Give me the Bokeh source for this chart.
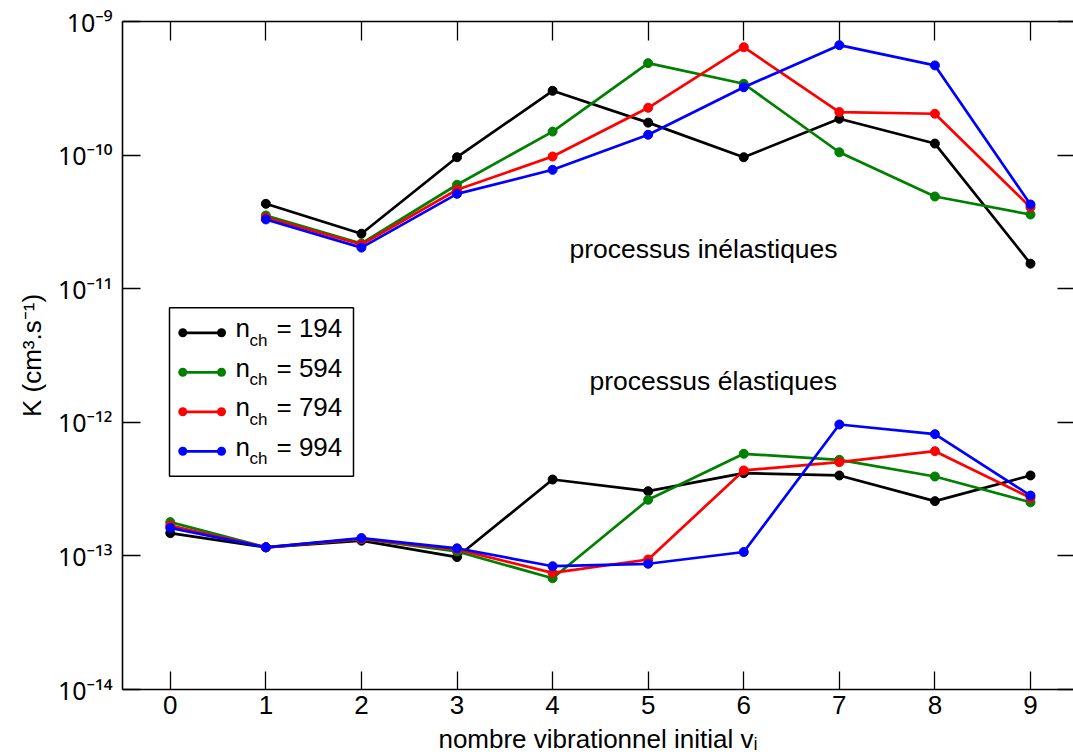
import numpy as np
from bokeh.plotting import figure
from bokeh.models import (Range1d, FixedTicker, LinearAxis, LogAxis, Label,
                          BoxAnnotation, CustomJSTickFormatter)
from bokeh.embed import file_html
from bokeh.resources import INLINE

FONT = "Liberation Sans"

# ---------------- data ----------------
x_ticks = [0, 1, 2, 3, 4, 5, 6, 7, 8, 9]
y_ticks = [1e-14, 1e-13, 1e-12, 1e-11, 1e-10, 1e-9]

vib_inel = [1, 2, 3, 4, 5, 6, 7, 8, 9]
vib_el = [0, 1, 2, 3, 4, 5, 6, 7, 8, 9]

series_names = ["194", "594", "794", "994"]
colors = ["#000000", "#008000", "#ff0000", "#0000ff"]

k_inel_194 = [4.32e-11, 2.58e-11, 9.64e-11, 3.03e-10, 1.75e-10, 9.64e-11, 1.87e-10, 1.22e-10, 1.54e-11]
k_inel_594 = [3.53e-11, 2.18e-11, 6.00e-11, 1.50e-10, 4.88e-10, 3.42e-10, 1.05e-10, 4.90e-11, 3.59e-11]
k_inel_794 = [3.41e-11, 2.14e-11, 5.50e-11, 9.76e-11, 2.26e-10, 6.42e-10, 2.10e-10, 2.04e-10, 4.07e-11]
k_inel_994 = [3.30e-11, 2.03e-11, 5.13e-11, 7.76e-11, 1.42e-10, 3.22e-10, 6.65e-10, 4.69e-10, 4.27e-11]

k_el_194 = [1.48e-13, 1.16e-13, 1.30e-13, 9.80e-14, 3.73e-13, 3.05e-13, 4.16e-13, 4.00e-13, 2.57e-13, 4.00e-13]
k_el_594 = [1.79e-13, 1.16e-13, 1.34e-13, 1.08e-13, 6.80e-14, 2.63e-13, 5.81e-13, 5.24e-13, 3.93e-13, 2.52e-13]
k_el_794 = [1.69e-13, 1.16e-13, 1.34e-13, 1.12e-13, 7.47e-14, 9.40e-14, 4.36e-13, 5.03e-13, 6.08e-13, 2.72e-13]
k_el_994 = [1.62e-13, 1.16e-13, 1.36e-13, 1.14e-13, 8.37e-14, 8.73e-14, 1.07e-13, 9.63e-13, 8.15e-13, 2.83e-13]

inel_all = [k_inel_194, k_inel_594, k_inel_794, k_inel_994]
el_all = [k_el_194, k_el_594, k_el_794, k_el_994]

x_label = "nombre vibrationnel initial v\u1d62"
y_label = "K (cm\u00b3.s\u207b\u00b9)"
ann_inel = "processus inélastiques"
ann_el = "processus élastiques"

# ---------------- figure ----------------
p = figure(width=1073, height=756, y_axis_type="log",
           x_range=Range1d(-0.5, 9.45), y_range=Range1d(1e-14, 1e-9),
           output_backend="svg", toolbar_location=None,
           min_border_left=122, min_border_right=0, min_border_top=21,
           min_border_bottom=67)
p.grid.visible = False
p.outline_line_color = None
p.background_fill_color = "white"
p.border_fill_color = "white"

sup_fmt = CustomJSTickFormatter(code="""
const sup = {"-": "\u207b", "0": "\u2070", "1": "\u00b9", "2": "\u00b2", "3": "\u00b3",
             "4": "\u2074", "5": "\u2075", "6": "\u2076", "7": "\u2077", "8": "\u2078", "9": "\u2079"};
const e = Math.round(Math.log10(tick)).toString();
return "10" + e.split("").map(c => sup[c]).join("");
""")

xa = p.xaxis[0]
xa.ticker = FixedTicker(ticks=x_ticks)
xa.major_tick_in = 18
xa.major_tick_out = 0
xa.minor_tick_line_color = None
xa.axis_line_width = 1.6
xa.major_tick_line_width = 1.3
xa.major_label_text_font = FONT
xa.major_label_text_font_size = "26px"
xa.major_label_text_color = "black"
xa.major_label_standoff = 6
xa.axis_label = x_label
xa.axis_label_text_font = FONT
xa.axis_label_text_font_size = "26px"
xa.axis_label_text_font_style = "normal"
xa.axis_label_text_color = "black"
xa.axis_label_standoff = 7

ya = p.yaxis[0]
ya.ticker = FixedTicker(ticks=y_ticks)
ya.formatter = sup_fmt
ya.major_label_text_font = "Noto Sans"
ya.major_label_text_font_size = "25px"
ya.major_label_text_color = "black"
ya.major_label_standoff = 10
ya.major_tick_in = 18
ya.major_tick_out = 0
ya.minor_tick_line_color = None
ya.axis_line_width = 1.6
ya.major_tick_line_width = 1.3
ya.axis_label = y_label
ya.axis_label_text_font = FONT
ya.axis_label_text_font_size = "26px"
ya.axis_label_text_font_style = "normal"
ya.axis_label_text_color = "black"
ya.axis_label_standoff = 8

top = LinearAxis(ticker=FixedTicker(ticks=x_ticks), formatter=CustomJSTickFormatter(code="return ''"),
                 major_tick_in=19, major_tick_out=0, minor_tick_line_color=None,
                 major_label_text_font_size="0px", major_label_standoff=0,
                 axis_line_width=1.6, major_tick_line_width=1.3)
p.add_layout(top, "above")

right = LogAxis(ticker=FixedTicker(ticks=y_ticks), formatter=CustomJSTickFormatter(code="return ''"),
                major_tick_in=16, major_tick_out=0, minor_tick_line_color=None,
                major_label_text_font_size="0px", major_label_standoff=0,
                axis_line_color=None, major_tick_line_width=1.3)
p.add_layout(right, "right")

# ---------------- data lines ----------------
for col, inel, el in zip(colors, inel_all, el_all):
    p.line(vib_inel, inel, line_color=col, line_width=2.7)
    p.scatter(vib_inel, inel, size=9, fill_color=col, line_color=col)
    p.line(vib_el, el, line_color=col, line_width=2.7)
    p.scatter(vib_el, el, size=9, fill_color=col, line_color=col)

# ---------------- annotations ----------------
DY = 8.5  # baseline correction
p.add_layout(Label(x=447, y=432 + DY, x_units="screen", y_units="screen", text=ann_inel,
                   text_align="left", text_baseline="alphabetic",
                   text_font=FONT, text_font_size="26.5px", text_color="black"))
p.add_layout(Label(x=467, y=300 + DY, x_units="screen", y_units="screen", text=ann_el,
                   text_align="left", text_baseline="alphabetic",
                   text_font=FONT, text_font_size="26.5px", text_color="black"))

# ---------------- legend ----------------
leg_left, leg_right, leg_top, leg_bottom = 47, 231, 381.7, 213.3
p.add_layout(BoxAnnotation(left=leg_left, right=leg_right, top=leg_top, bottom=leg_bottom,
                           left_units="screen", right_units="screen", top_units="screen",
                           bottom_units="screen", fill_color="white", fill_alpha=1.0,
                           line_color="black", line_width=1.5, line_alpha=1.0))
for i, (name, col) in enumerate(zip(series_names, colors)):
    row = leg_top - 25 - i * 39.5
    p.add_layout(BoxAnnotation(left=60.3, right=99, top=row + 1.35, bottom=row - 1.35,
                               left_units="screen", right_units="screen", top_units="screen",
                               bottom_units="screen", fill_color=col, fill_alpha=1.0,
                               line_color=None))
    for cx in (60.3, 99):
        p.add_layout(BoxAnnotation(left=cx - 4.5, right=cx + 4.5, top=row + 4.5, bottom=row - 4.5,
                                   left_units="screen", right_units="screen", top_units="screen",
                                   bottom_units="screen", fill_color=col, fill_alpha=1.0,
                                   line_color=None, border_radius=5))
    p.add_layout(Label(x=113, y=row - 3.7 + DY, x_units="screen", y_units="screen", text="n",
                       text_align="left", text_baseline="alphabetic",
                       text_font=FONT, text_font_size="26px", text_color="black"))
    p.add_layout(Label(x=127, y=row - 15.7 + DY, x_units="screen", y_units="screen", text="ch",
                       text_align="left", text_baseline="alphabetic",
                       text_font=FONT, text_font_size="17px", text_color="black"))
    p.add_layout(Label(x=154, y=row - 3.7 + DY, x_units="screen", y_units="screen", text="= " + name,
                       text_align="left", text_baseline="alphabetic",
                       text_font=FONT, text_font_size="26px", text_color="black"))

open("out.html", "w", encoding="utf-8").write(file_html(p, INLINE))
